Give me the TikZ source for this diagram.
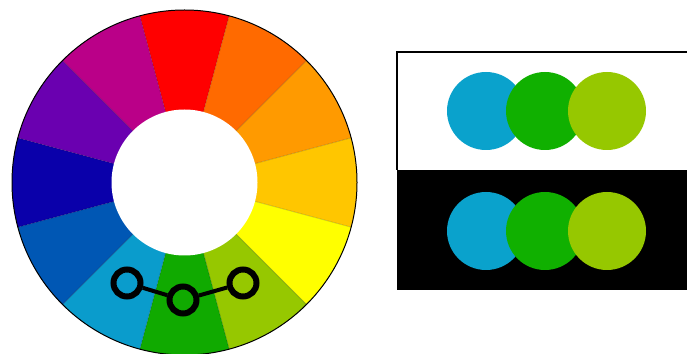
\documentclass[tikz,border=0pt]{standalone}
\definecolor{cRed}{HTML}{FF0000}
\definecolor{cRedOr}{HTML}{FF6A00}
\definecolor{cOr}{HTML}{FF9A00}
\definecolor{cYelOr}{HTML}{FFC600}
\definecolor{cYel}{HTML}{FFFF00}
\definecolor{cYelGr}{HTML}{96C800}
\definecolor{cGr}{HTML}{10AA00}
\definecolor{cCyan}{HTML}{0A9CCC}
\definecolor{cBlue}{HTML}{0057B4}
\definecolor{cDBlue}{HTML}{0A00AA}
\definecolor{cPurp}{HTML}{6A00B0}
\definecolor{cMag}{HTML}{BA0088}
\definecolor{pCyan}{HTML}{0AA2CC}
\definecolor{pGr}{HTML}{10B000}
\definecolor{pYelGr}{HTML}{96C800}
\begin{document}
\begin{tikzpicture}[x=1pt,y=1pt,
  marker/.style={circle, draw=black, line width=6pt, minimum size=27pt, inner sep=0pt},
  link/.style={draw=black, line width=4pt},
  dot/.style={circle, minimum size=78pt, inner sep=0pt},
  sep/.style={draw=black, draw opacity=0.18, line width=0.8pt}]
\useasboundingbox (0,0) rectangle (687,353);
\fill[white] (0,0) rectangle (687,353);
% colour wheel
\begin{scope}[shift={(184.5,170.5)}]
  \foreach \a/\c in {90/cRed,60/cRedOr,30/cOr,0/cYelOr,-30/cYel,-60/cYelGr,-90/cGr,-120/cCyan,-150/cBlue,180/cDBlue,150/cPurp,120/cMag}{
    \fill[\c] (0,0) -- (\a-15:172.5) arc[start angle=\a-15, end angle=\a+15, radius=172.5] -- cycle;
  }
  \foreach \a in {15,45,...,345}{
    \draw[sep] (\a:73) -- (\a:172.5);
  }
  \draw[black, line width=1pt] (0,0) circle[radius=172.5];
  \fill[white] (0,0) circle[radius=73];
\end{scope}
% markers
\node[marker, fill=cCyan] (m1) at (127,70) {};
\node[marker, fill=cGr] (m2) at (183,53) {};
\node[marker, fill=cYelGr] (m3) at (243,70) {};
\draw[link] (m1) -- (m2);
\draw[link] (m2) -- (m3);
% right panel
\fill[black] (397,63) rectangle (687,183);
\draw[black, line width=1.5pt] (397,183) -- (397,301) -- (687,301);
\node[dot, fill=pCyan] (t1) at (486,242) {};
\node[dot, fill=pGr] (t2) at (545,242) {};
\node[dot, fill=pYelGr] (t3) at (607,242) {};
\node[dot, fill=pCyan] (b1) at (486,122) {};
\node[dot, fill=pGr] (b2) at (545,122) {};
\node[dot, fill=pYelGr] (b3) at (607,122) {};
\end{tikzpicture}
\end{document}
